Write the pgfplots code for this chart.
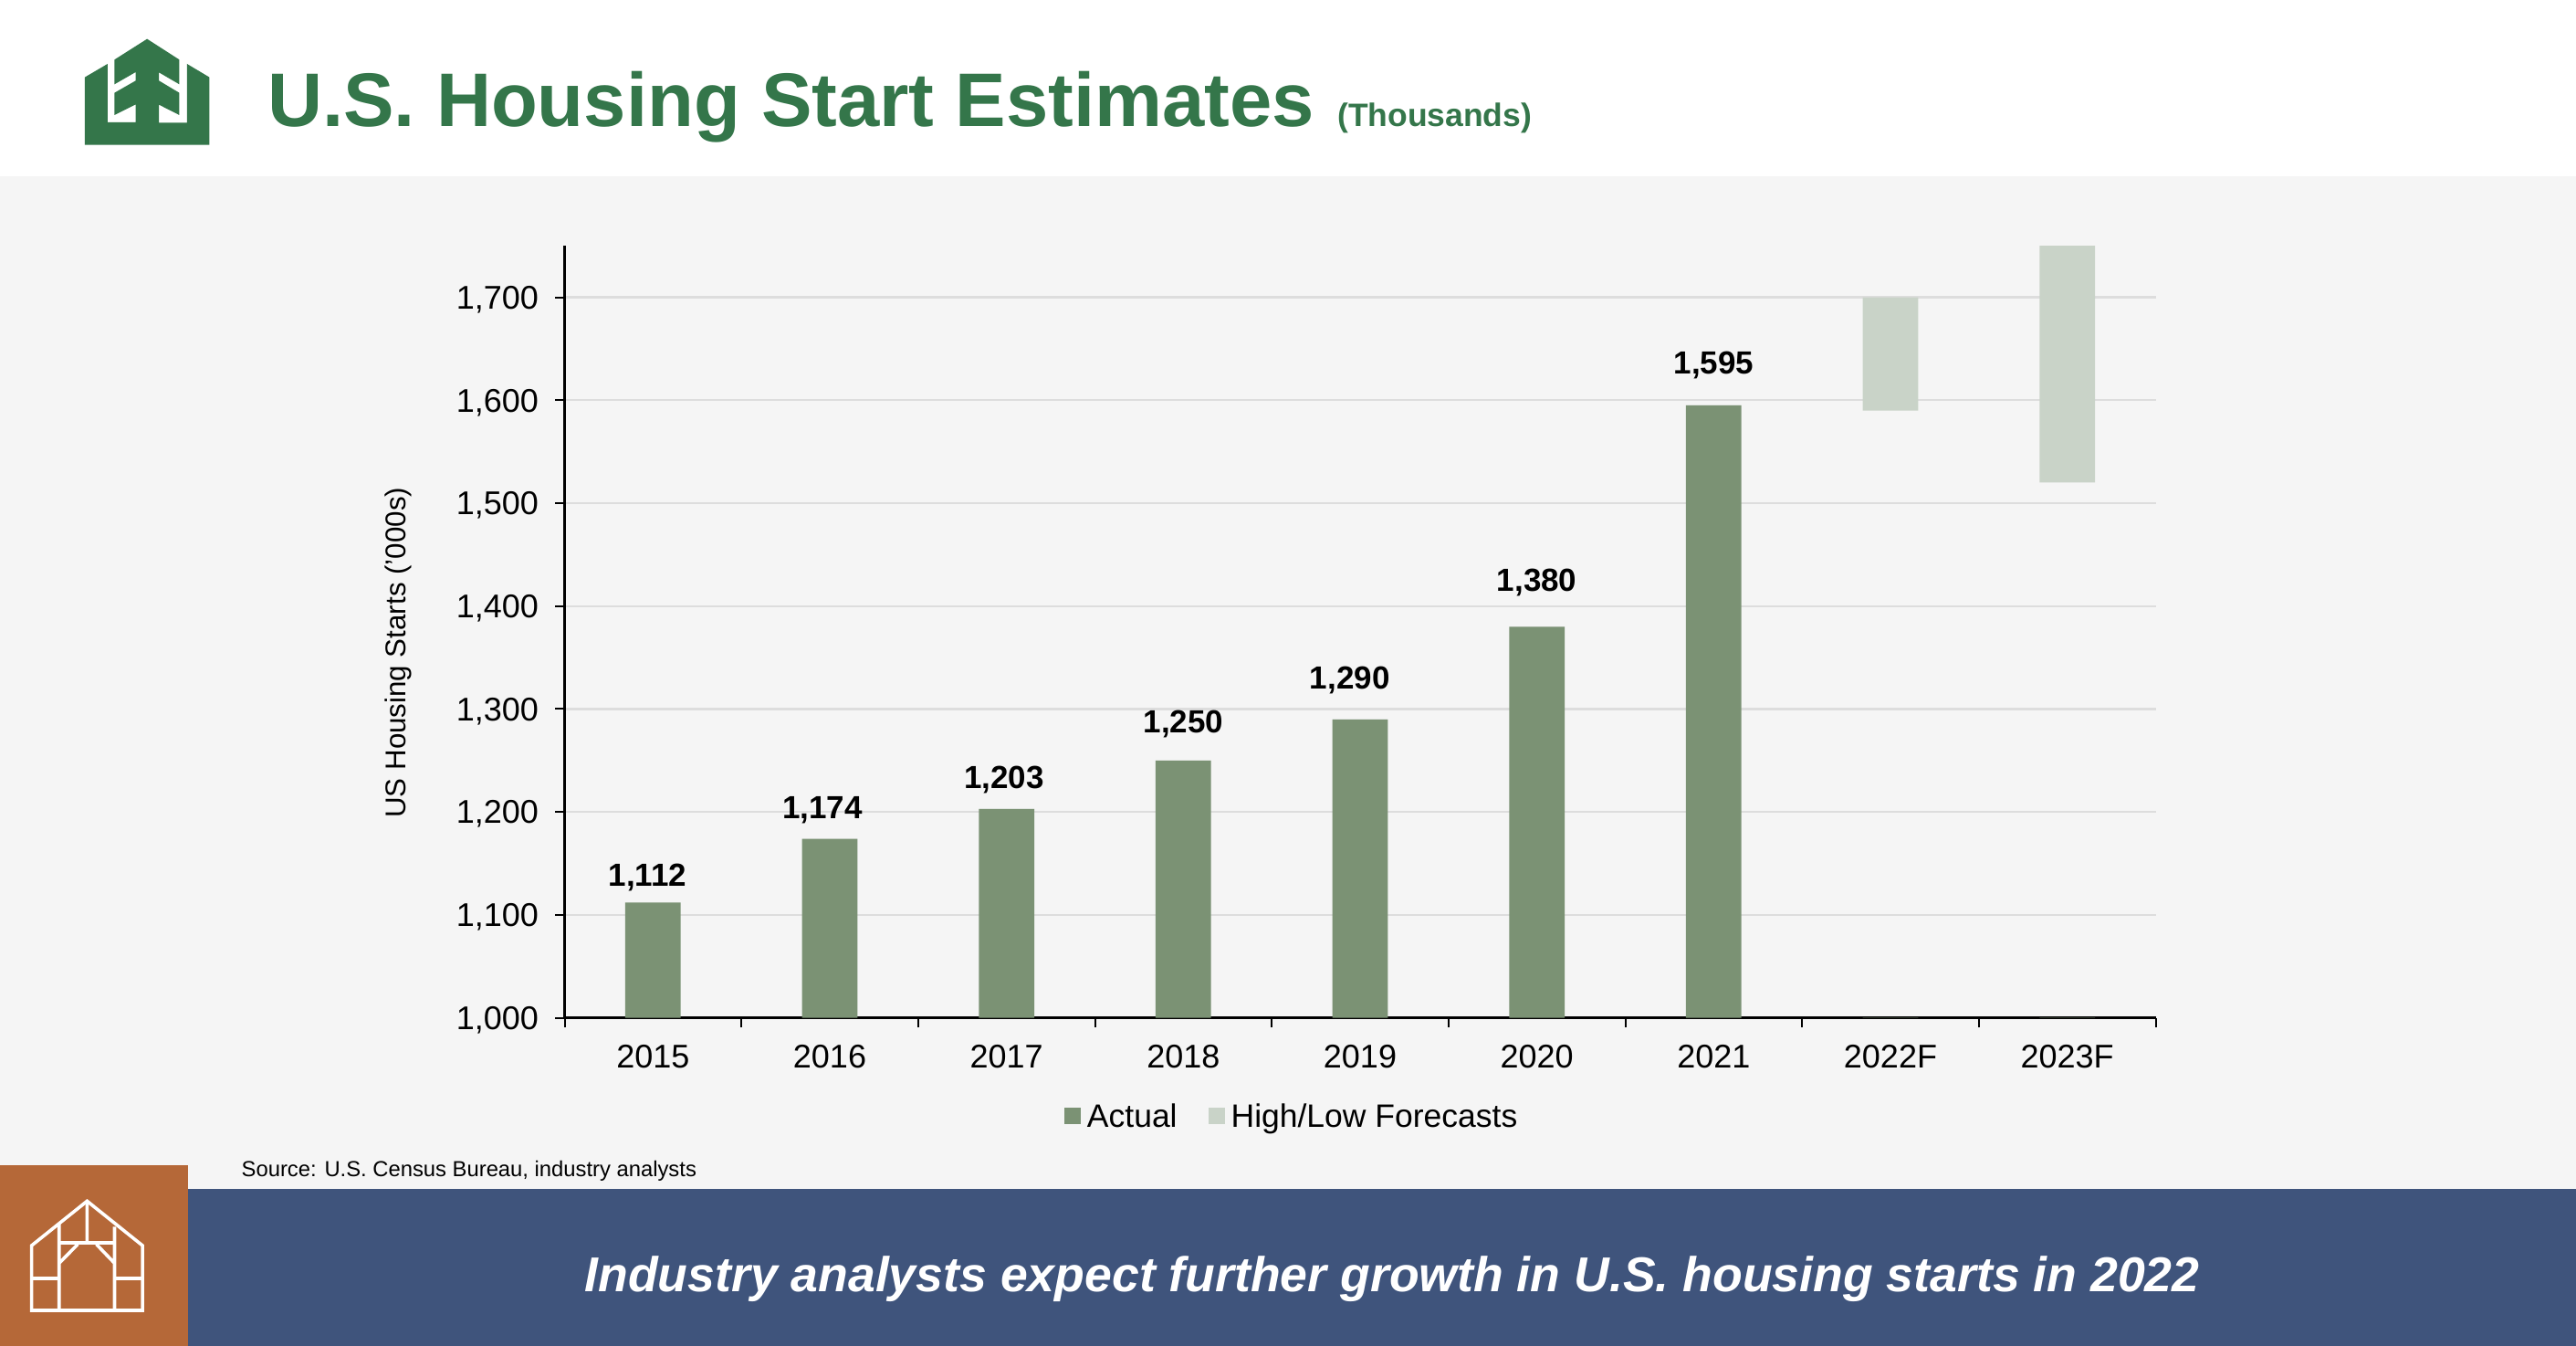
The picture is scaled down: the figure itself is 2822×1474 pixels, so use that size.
\documentclass[border=0pt]{standalone}
\usepackage{fontspec}
\setmainfont{Liberation Sans}
\usepackage{pgfplots}
\usepackage{pgfplotstable}
\pgfplotsset{compat=1.18}
\definecolor{titlegreen}{HTML}{34764A}
\definecolor{baract}{HTML}{7B9274}
\definecolor{barfc}{HTML}{C9D3C8}
\definecolor{panel}{HTML}{F5F5F5}
\definecolor{navy}{HTML}{3F547C}
\definecolor{rust}{HTML}{B56838}
\definecolor{gridc}{HTML}{DDDDDD}
\newcommand{\fs}[1]{\fontsize{#1}{#1}\selectfont}
\pgfplotstableread{
x actual lab base range dx dy
0 1112 1,112 0 0 -5.8 18.3
1 1174 1,174 0 0 -8 21.7
2 1203 1,203 0 0 -2.7 22
3 1250 1,250 0 0 0 30
4 1290 1,290 0 0 -11.3 33.7
5 1380 1,380 0 0 0 38.7
6 1595 1,595 0 0 0 34.5
7 0 {} 1590 110 0 0
8 0 {} 1520 230 0 0
}\housing
\begin{document}
\begin{tikzpicture}[x=1pt,y=1pt]
\path[use as bounding box] (0,0) rectangle (2822,1474);
\begin{scope}[x=1pt,y=-1pt,shift={(0pt,1474pt)}]
\fill[white] (0,0) rectangle (2822,193);
\fill[panel] (0,193) rectangle (2822,1302);
\fill[navy] (206,1302) rectangle (2822,1474);
\fill[rust] (0,1276) rectangle (206,1474);
\node[anchor=base west,inner sep=0pt,text=titlegreen,font=\bfseries\fs{83.2}] at (293,139) {U.S. Housing Start Estimates};
\node[anchor=base west,inner sep=0pt,text=titlegreen,font=\bfseries\fs{35.5}] at (1465,139) {(Thousands)};
\node[anchor=base west,inner sep=0pt,text=black,font=\fs{23.8}] at (264.5,1289) {Source: U.S. Census Bureau, industry analysts};
\node[anchor=base,inner sep=0pt,text=white,font=\bfseries\itshape\fs{53.6}] at (1525,1415) {Industry analysts expect further growth in U.S. housing starts in 2022};
\end{scope}
% green logo
\begin{scope}[x=0.4464pt,y=-0.3333pt,shift={(0pt,1474pt)}]
\fill[titlegreen] (208,254)--(264,210)--(264,402)--(333,402)--(333,343)--(281,378)--(281,305)--(333,265)--(333,237)--(281,277)--(281,196)--(361,128)--(440,196)--(440,277)--(390,238)--(390,265)--(440,305)--(440,378)--(390,344)--(390,403)--(459,403)--(459,210)--(514,254)--(514,476)--(208,476)--cycle;
\end{scope}
% barn icon
\begin{scope}[x=0.5102pt,y=-0.3333pt,shift={(0pt,1474pt-1240pt)}]
\draw[white,line width=3.6pt,miter limit=10] (68,585)--(68,372)--(187,226)--(306,372)--(306,585)--cycle;
\draw[white,line width=3.6pt] (127,585)--(127,303) (246,585)--(246,310) (187,226)--(187,363) (127,363)--(246,363) (68,480)--(127,480) (246,480)--(306,480) (127,430)--(167,368) (246,430)--(207,368);
\end{scope}
\begin{axis}[
  at={(618.5pt,359.3pt)},anchor=south west,
  scale only axis,width=1743pt,height=845.5pt,
  ybar,bar shift=0pt,stack plots=y,bar width=60.7pt,
  xmin=-0.5,xmax=8.5,ymin=1000,ymax=1750,
  axis lines*=left,axis line style={-,black,line width=2.4pt},
  clip=true,
  ytick={1000,1100,1200,1300,1400,1500,1600,1700},
  xtick={0,1,2,3,4,5,6,7,8},
  xticklabels={2015,2016,2017,2018,2019,2020,2021,2022F,2023F},
  minor xtick={-0.5,0.5,1.5,2.5,3.5,4.5,5.5,6.5,7.5,8.5},
  major x tick style={draw=none},
  minor x tick style={black,line width=2pt},
  y tick style={black,line width=2pt},
  tick align=outside,
  major tick length=10.5pt,minor tick length=10.5pt,
  xtick pos=bottom,ytick pos=left,
  ymajorgrids,
  major grid style={gridc,line width=2.2pt},
  tick label style={font=\fs{36},black},
  x tick label style={yshift=-16pt},
  y tick label style={xshift=-14.5pt,yshift=-2.5pt},
  /pgf/number format/assume math mode=true,
  y tick label style={/pgf/number format/.cd,1000 sep={,},fixed},
  every axis y label/.style={at={(axis description cs:-0.1045,0.473)},rotate=90,anchor=center,font=\fs{31.3},black},
  ylabel={US Housing Starts ('000s)},
  legend columns=2,
  legend style={draw=none,fill=none,at={(axis description cs:0.4585,-0.1275)},anchor=center,font=\fs{35.5},inner sep=0pt,/tikz/every even column/.append style={column sep=28pt},nodes={inner xsep=6.5pt}},
]
\addplot[ybar,fill=baract,draw=none,
  visualization depends on={\thisrow{dx} \as \labdx},
  visualization depends on={\thisrow{dy} \as \labdy},
  point meta=explicit symbolic,
  nodes near coords,
  every node near coord/.append style={font=\bfseries\fs{35},text=black,inner sep=0pt,xshift=\labdx,yshift=\labdy,anchor=base},
  legend image code/.code={\fill[baract] (0pt,-9pt) rectangle (18pt,9pt);}
] table[x=x,y=actual,meta=lab] {\housing};
\addlegendentry{Actual}
\addplot[ybar,fill=none,draw=none,forget plot] table[x=x,y=base] {\housing};
\addplot[ybar,fill=barfc,draw=none,
  legend image code/.code={\fill[barfc] (0pt,-9pt) rectangle (18pt,9pt);}
] table[x=x,y=range] {\housing};
\addlegendentry{High/Low Forecasts}
\end{axis}
\end{tikzpicture}
\end{document}
